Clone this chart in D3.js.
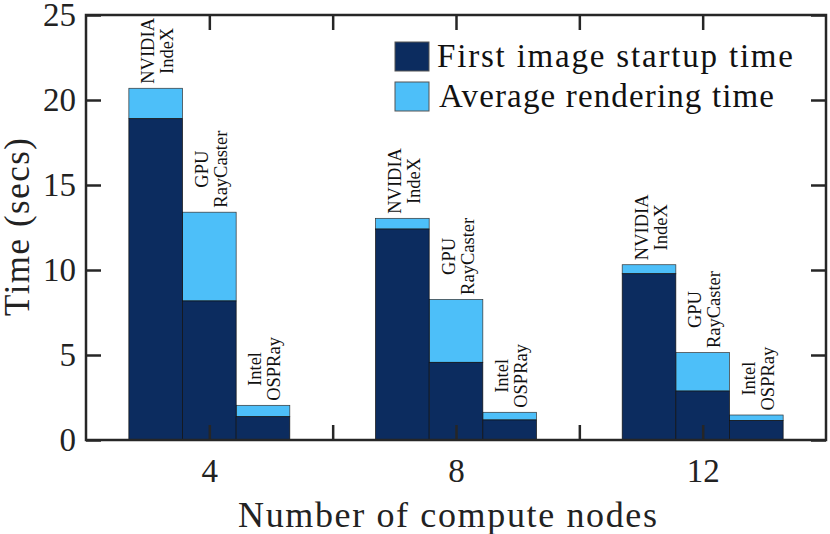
<!DOCTYPE html>
<html>
<head>
<meta charset="utf-8">
<script src="https://cdn.jsdelivr.net/npm/d3@7"></script>
<style>
  html, body { margin: 0; padding: 0; background: #fff; }
  svg { display: block; }
  svg text { font-family: "Liberation Serif", "DejaVu Serif", serif; }
</style>
</head>
<body>
<svg id="chart" width="830" height="534"></svg>
<script>
// ---- data ----
const nodeCounts = [4, 8, 12];
const rendererLabels = [["NVIDIA", "IndeX"], ["GPU", "RayCaster"], ["Intel", "OSPRay"]];
const startupTime = [
  [18.9, 8.18, 1.37],   // 4 nodes
  [12.41, 4.57, 1.18],  // 8 nodes
  [9.78, 2.88, 1.14]    // 12 nodes
];
const avgRenderTime = [
  [1.79, 5.22, 0.67],
  [0.63, 3.70, 0.45],
  [0.53, 2.26, 0.33]
];
const seriesNames = ["First image startup time", "Average rendering time"];
const yTicks = [0, 5, 10, 15, 20, 25];
const xTicks = [4, 6, 8, 10, 12];
const xTickLabels = ["4", "", "8", "", "12"];

// ---- styles ----
const colors = ["#0c2c5f", "#4dbff9"];
const axisColor = "#262626";
const legendTextLen = [356, 335];

const svg = d3.select("#chart");
const pL = 86, pR = 826, pT = 15, pB = 440;

const x = d3.scaleLinear().domain([2, 14]).range([pL, pR]);
const y = d3.scaleLinear().domain([0, 25]).range([pB, pT]);

const barW = 0.87;       // in x units
const offsets = [-0.87, 0, 0.87];

const records = [];
nodeCounts.forEach((n, gi) => {
  rendererLabels.forEach((lab, bi) => {
    const s = startupTime[gi][bi], a = avgRenderTime[gi][bi];
    records.push({ n, bi, lab, s, a, cx: n + offsets[bi] });
  });
});

const bars = svg.append("g");
bars.selectAll("rect.avg").data(records).join("rect")
  .attr("class", "avg")
  .attr("x", d => x(d.cx - barW / 2))
  .attr("width", d => x(d.cx + barW / 2) - x(d.cx - barW / 2))
  .attr("y", d => y(d.s + d.a))
  .attr("height", d => y(d.s) - y(d.s + d.a))
  .attr("fill", colors[1])
  .attr("stroke", "#333")
  .attr("stroke-width", 0.7);
bars.selectAll("rect.st").data(records).join("rect")
  .attr("class", "st")
  .attr("x", d => x(d.cx - barW / 2))
  .attr("width", d => x(d.cx + barW / 2) - x(d.cx - barW / 2))
  .attr("y", d => y(d.s))
  .attr("height", d => y(0) - y(d.s))
  .attr("fill", colors[0])
  .attr("stroke", "#111")
  .attr("stroke-width", 0.7);

const labG = svg.append("g").selectAll("g").data(records).join("g")
  .attr("transform", d => `translate(${x(d.cx)},${y(d.s + d.a) - 4.5}) rotate(-90)`);
labG.each(function (d) {
  const g = d3.select(this);
  const t1 = g.append("text").text(d.lab[0]).attr("y", -1.5);
  const t2 = g.append("text").text(d.lab[1]).attr("y", 17.5);
  [t1, t2].forEach(t => t.attr("font-size", 18.5).attr("fill", "#111").attr("text-anchor", "middle"));
  const maxLen = Math.max(t1.node().getComputedTextLength(), t2.node().getComputedTextLength());
  t1.attr("x", maxLen / 2);
  t2.attr("x", maxLen / 2);
});

const tickLen = 15;
const yAxisL = d3.axisLeft(y).tickValues(yTicks).tickSizeInner(-tickLen).tickSizeOuter(0).tickPadding(10);
const yAxisR = d3.axisRight(y).tickValues(yTicks).tickSizeInner(-tickLen).tickSizeOuter(0).tickFormat("");
const xAxisB = d3.axisBottom(x).tickValues(xTicks).tickSizeInner(-tickLen).tickSizeOuter(0)
  .tickFormat((d, i) => xTickLabels[i]).tickPadding(19);
const xAxisT = d3.axisTop(x).tickValues(xTicks).tickSizeInner(-tickLen).tickSizeOuter(0).tickFormat("");

function styleAxis(g) {
  g.select(".domain").remove();
  g.selectAll(".tick line").attr("stroke", axisColor).attr("stroke-width", 2.5);
  g.selectAll(".tick text").attr("fill", "#222").attr("font-size", 33)
    .attr("font-family", null);
}
svg.append("g").attr("transform", `translate(${pL},0)`).call(yAxisL).call(styleAxis);
svg.append("g").attr("transform", `translate(${pR},0)`).call(yAxisR).call(styleAxis);
svg.append("g").attr("transform", `translate(0,${pB})`).call(xAxisB).call(styleAxis);
svg.append("g").attr("transform", `translate(0,${pT})`).call(xAxisT).call(styleAxis);

svg.append("rect")
  .attr("x", pL).attr("y", pT)
  .attr("width", pR - pL).attr("height", pB - pT)
  .attr("fill", "none").attr("stroke", axisColor).attr("stroke-width", 2.5);

svg.append("text")
  .attr("transform", `translate(29,227) rotate(-90)`)
  .attr("text-anchor", "middle").attr("font-size", 35).attr("fill", "#222")
  .attr("textLength", 178).attr("lengthAdjust", "spacing")
  .text("Time (secs)");
svg.append("text")
  .attr("x", 447.5).attr("y", 527)
  .attr("text-anchor", "middle").attr("font-size", 36).attr("fill", "#222")
  .attr("textLength", 419).attr("lengthAdjust", "spacing")
  .text("Number of compute nodes");

const leg = svg.append("g").selectAll("g").data(seriesNames).join("g")
  .attr("transform", (d, i) => `translate(395,${42 + i * 40})`);
leg.append("rect").attr("width", 34).attr("height", 29)
  .attr("fill", (d, i) => colors[i]).attr("stroke", "#555").attr("stroke-width", 1);
leg.append("text").attr("x", (d, i) => i === 0 ? 42 : 44).attr("y", 25)
  .attr("font-size", 33).attr("fill", "#111")
  .attr("textLength", (d, i) => legendTextLen[i]).attr("lengthAdjust", "spacing")
  .text(d => d);
</script>
</body>
</html>
